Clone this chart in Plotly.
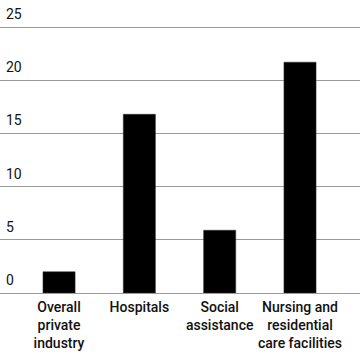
import plotly.graph_objects as go

categories = ["Overall<br>private<br>industry", "Hospitals", "Social<br>assistance", "Nursing and<br>residential<br>care facilities"]
values = [2.0, 16.8, 5.9, 21.7]
y_ticks = [0, 5, 10, 15, 20, 25]

fig = go.Figure(go.Bar(
    x=list(range(len(categories))), y=values,
    marker=dict(color="#000000", line=dict(color="#333333", width=0.5)),
    width=0.4,
))
fig.update_layout(
    width=360, height=357,
    margin=dict(l=0, r=0, t=26, b=64),
    paper_bgcolor="white", plot_bgcolor="white",
    showlegend=False,
    font=dict(family="Roboto, sans-serif", color="#111111", size=14),
)
fig.update_xaxes(
    range=[-0.735, 3.747],
    tickmode="array", tickvals=list(range(len(categories))), ticktext=categories,
    tickangle=0, automargin=False,
    showgrid=False, zeroline=False, showline=False, ticks="",
    tickfont=dict(family="Roboto, sans-serif", size=14, color="#111111", weight=500),
    ticklabelstandoff=4,
)
fig.update_yaxes(
    range=[0, 25.1], automargin=False,
    tickmode="array", tickvals=y_ticks,
    showgrid=True, gridcolor="#999999", gridwidth=1,
    zeroline=True, zerolinecolor="#999999", zerolinewidth=1,
    showticklabels=False,
    showline=False, ticks="",
)
for t in y_ticks:
    fig.add_annotation(
        x=0, xref="paper", y=t, yref="y", text=str(t),
        showarrow=False, xanchor="left", yanchor="bottom",
        xshift=4, yshift=3,
        font=dict(family="Roboto, sans-serif", size=14, color="#111111"),
    )
fig.write_html(
    "out.html",
    config={"displayModeBar": False},
    post_script="document.body.style.margin='0px';document.body.style.overflow='hidden';",
)
